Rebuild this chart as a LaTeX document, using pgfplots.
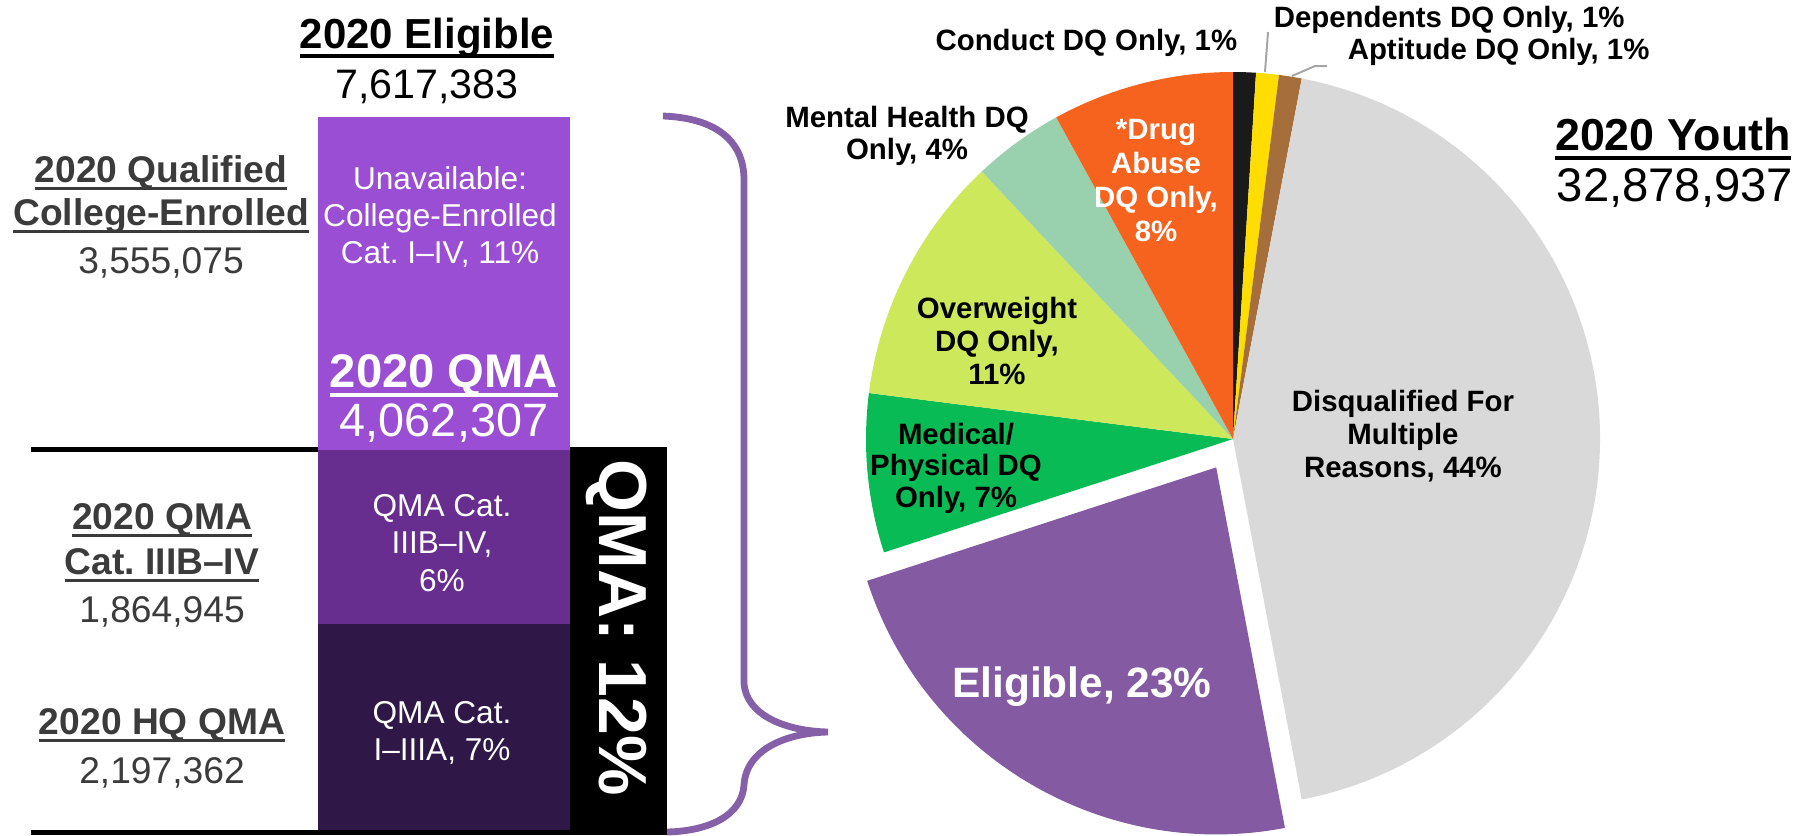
\documentclass[border=0pt]{standalone}
\usepackage{pgfplots}
\pgfplotsset{compat=1.18}
\usepackage{pgfplotstable}
\usepackage{fontspec}
\setmainfont{Liberation Sans}
\frenchspacing

\definecolor{lightbar}{HTML}{9A4ED4}
\definecolor{midbar}{HTML}{672E90}
\definecolor{darkbar}{HTML}{2F1847}
\definecolor{bracecol}{HTML}{8560A8}
\definecolor{labgray}{HTML}{3B3B3B}
\definecolor{leader}{HTML}{A6A6A6}
% pie slice colours, in table order
\definecolor{pie0}{HTML}{1A1A1A}
\definecolor{pie1}{HTML}{FFDD00}
\definecolor{pie2}{HTML}{A56E3A}
\definecolor{pie3}{HTML}{D9D9D9}
\definecolor{pie4}{HTML}{845BA3}
\definecolor{pie5}{HTML}{09BB55}
\definecolor{pie6}{HTML}{CDE95B}
\definecolor{pie7}{HTML}{99D0AD}
\definecolor{pie8}{HTML}{F6631F}

\newcommand\fs[2]{\fontsize{#1pt}{#2pt}\selectfont}
\newcommand\ul[1]{\leavevmode\setbox0\hbox{#1}\rlap{\rule[-0.21em]{\wd0}{0.09em}}\box0}

% 2020 youth, clockwise from 12 o'clock
\pgfplotstableread{
slice pct
Conduct 1
Dependents 1
Aptitude 1
Multiple 44
Eligible 23
Medical 7
Overweight 11
Mental 4
Drug 8
}\pietab
\pgfplotstablecreatecol[expr accum={\pgfmathaccuma + \thisrow{pct}}{0}]{cum}\pietab

\pgfplotsset{canvas/.style={at={(0,0)}, anchor=south west, scale only axis,
  width=453pt, height=209pt, xmin=0, xmax=1812, ymin=0, ymax=836,
  y dir=reverse, hide axis, clip=false}}

\begin{document}
\begin{tikzpicture}
% ---- background canvas: pie, brace, labels
\begin{axis}[canvas]
\coordinate (cvA) at (axis cs:0,0);
\coordinate (cvB) at (axis cs:1812,836);
\coordinate (barSW) at (axis cs:318,830);

\pgfplotsforeachungrouped \i in {0,...,8}{%
  \pgfplotstablegetelem{\i}{pct}\of\pietab\let\ppct\pgfplotsretval
  \pgfplotstablegetelem{\i}{cum}\of\pietab\let\pcum\pgfplotsretval
  \pgfmathsetmacro\sa{90-3.6*(\pcum-\ppct)}%
  \pgfmathsetmacro\ea{90-3.6*\pcum}%
  \pgfmathsetmacro\ma{(\sa+\ea)/2}%
  \pgfmathsetmacro\off{(\i==4)*8.25}%
  \edef\temp{\noexpand\fill[pie\i] (axis cs:1233,439) ++(\ma:\off pt) -- ++(\sa:91.75pt)
    arc[start angle=\sa, end angle=\ea, radius=91.75pt] -- cycle;}%
  \temp
}

% leader lines
\draw[leader, line width=0.5pt] (axis cs:1268,32) -- (axis cs:1265,72);
\draw[leader, line width=0.5pt] (axis cs:1292,76) -- (axis cs:1315,66) -- (axis cs:1327,66);

% brace
\draw[bracecol, line width=1.7pt] (axis cs:663,116)
  .. controls (axis cs:715,118) and (axis cs:744,140) .. (axis cs:744,180)
  -- (axis cs:744,683)
  .. controls (axis cs:746,715) and (axis cs:785,731) .. (axis cs:828,732)
  .. controls (axis cs:785,733) and (axis cs:746,750) .. (axis cs:744,785)
  .. controls (axis cs:742,815) and (axis cs:710,831) .. (axis cs:667,832);

% pie labels
\node[font={\fs{7.35}{8.3}\bfseries}, anchor=east, inner sep=0pt] at (axis cs:1238,43) {Conduct DQ Only, 1\%};
\node[font={\fs{7.35}{8.3}\bfseries}, anchor=west, inner sep=0pt] at (axis cs:1273,20) {Dependents DQ Only, 1\%};
\node[font={\fs{7.35}{8.3}\bfseries}, anchor=west, inner sep=0pt] at (axis cs:1347,52) {Aptitude DQ Only, 1\%};
\node[font={\fs{7.35}{8.1}\bfseries}, align=center, inner sep=0pt] at (axis cs:907,136) {Mental Health DQ\\Only, 4\%};
\node[font={\fs{7.35}{8.5}\bfseries}, align=center, inner sep=0pt, text=white] at (axis cs:1156,181) {*Drug\\Abuse\\DQ Only,\\8\%};
\node[font={\fs{7.35}{8.3}\bfseries}, align=center, inner sep=0pt] at (axis cs:997,341) {Overweight\\DQ Only,\\11\%};
\node[font={\fs{7.35}{7.9}\bfseries}, align=center, inner sep=0pt] at (axis cs:956,468) {Medical/\\Physical DQ\\Only, 7\%};
\node[font={\fs{7.35}{8.3}\bfseries}, align=center, inner sep=0pt] at (axis cs:1403,436) {Disqualified For\\Multiple\\Reasons, 44\%};
\node[font={\fs{10.6}{12}\bfseries}, inner sep=0pt, text=white] at (axis cs:1082,687) {Eligible, 23\%};
\node[font={\fs{11.2}{13}\bfseries}, inner sep=0pt] at (axis cs:1673,139) {\ul{2020 Youth}};
\node[font={\fs{11.8}{13}}, inner sep=0pt] at (axis cs:1675,188) {32,878,937};

% left titles
\node[font={\fs{10.5}{12}\bfseries}, inner sep=0pt] at (axis cs:427,38) {\ul{2020 Eligible}};
\node[font={\fs{10.3}{12}}, inner sep=0pt] at (axis cs:427,87) {7,617,383};
\node[font={\fs{9.3}{10.75}\bfseries}, text=labgray, align=center, inner sep=0pt] at (axis cs:161,194) {\ul{2020 Qualified}\\\ul{College-Enrolled}};
\node[font={\fs{9.3}{11}}, text=labgray, inner sep=0pt] at (axis cs:161,263) {3,555,075};
\node[font={\fs{9.3}{11.25}\bfseries}, text=labgray, align=center, inner sep=0pt] at (axis cs:162,543) {\ul{2020 QMA}\\\ul{Cat. IIIB–IV}};
\node[font={\fs{9.3}{11}}, text=labgray, inner sep=0pt] at (axis cs:162,612) {1,864,945};
\node[font={\fs{9.3}{11}\bfseries}, text=labgray, inner sep=0pt] at (axis cs:162,725) {\ul{2020 HQ QMA}};
\node[font={\fs{9.3}{11}}, text=labgray, inner sep=0pt] at (axis cs:162,773) {2,197,362};
\end{axis}

% ---- the stacked bar of 2020 eligible youth
\begin{axis}[at={(barSW)}, anchor=south west, scale only axis,
  width=63pt, height=178.25pt, hide axis, ybar stacked, bar width=63pt,
  xmin=0, xmax=1, ymin=0, ymax=7617383, clip=false]
\addplot[fill=darkbar, draw=none] coordinates {(0.5,2197362)};
\addplot[fill=midbar, draw=none] coordinates {(0.5,1864945)};
\addplot[fill=lightbar, draw=none] coordinates {(0.5,3555075)};
% QMA total = 4,062,307
\fill[black] (axis cs:1,0) rectangle (axis cs:1.385,4062307);
\draw[black, line width=1.3pt] (axis cs:-1.139,4062307) -- (axis cs:1.385,4062307);
\draw[black, line width=1.3pt, yshift=-0.6pt] (axis cs:-1.139,0) -- (axis cs:1.385,0);
\end{axis}

% ---- overlay canvas: text on the bar
\begin{axis}[canvas]
\node[font={\fs{7.9}{9.25}}, text=white, align=center, inner sep=0pt] at (axis cs:440,217) {Unavailable:\\College-Enrolled\\Cat. I–IV, 11\%};
\node[font={\fs{11.8}{13}\bfseries}, text=white, inner sep=0pt] at (axis cs:444,376) {\ul{2020 QMA}};
\node[font={\fs{11.7}{13}}, text=white, inner sep=0pt] at (axis cs:444,423) {4,062,307};
\node[font={\fs{7.9}{9.4}}, text=white, align=center, inner sep=0pt] at (axis cs:442,543) {QMA Cat.\\IIIB–IV,\\6\%};
\node[font={\fs{7.9}{9.25}}, text=white, align=center, inner sep=0pt] at (axis cs:442,733) {QMA Cat.\\I–IIIA, 7\%};
\node[font={\fs{17}{19}\bfseries}, text=white, rotate=-90, inner sep=0pt] at (axis cs:617,628) {QMA: 12\%};
\end{axis}

\pgfresetboundingbox
\path (cvA) rectangle (cvB);
\end{tikzpicture}
\end{document}
